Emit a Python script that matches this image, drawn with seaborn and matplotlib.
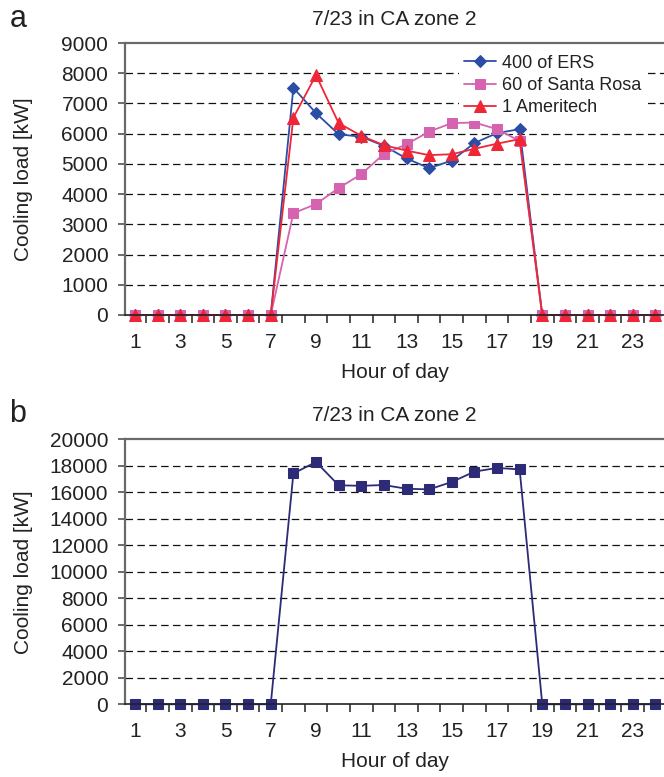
import matplotlib
matplotlib.use("Agg")
import matplotlib.pyplot as plt
import seaborn as sns
import pandas as pd
from matplotlib.ticker import FixedLocator, MultipleLocator

sns.set_theme(style="white")
plt.rcParams["font.family"] = ["Liberation Sans", "DejaVu Sans"]
plt.rcParams["text.color"] = "#222222"
plt.rcParams["axes.labelcolor"] = "#222222"
plt.rcParams["xtick.color"] = "#222222"
plt.rcParams["ytick.color"] = "#222222"

# Hourly cooling load [kW] on 7/23, CA zone 2
hours = list(range(1, 25))
ers_400 = [0, 0, 0, 0, 0, 0, 0, 7520, 6680, 5980, 5900, 5600, 5180, 4860, 5110,
           5690, 6020, 6150, 0, 0, 0, 0, 0, 0]
santa_rosa_60 = [0, 0, 0, 0, 0, 0, 0, 3370, 3670, 4200, 4660, 5330, 5650, 6070,
                 6350, 6370, 6150, 5760, 0, 0, 0, 0, 0, 0]
ameritech_1 = [0, 0, 0, 0, 0, 0, 0, 6530, 7940, 6350, 5930, 5620, 5440, 5290,
               5320, 5500, 5670, 5820, 0, 0, 0, 0, 0, 0]
total_load = [0, 0, 0, 0, 0, 0, 0, 17420, 18290, 16530, 16490, 16550, 16270,
              16220, 16780, 17560, 17840, 17730, 0, 0, 0, 0, 0, 0]

series_names = ["400 of ERS", "60 of Santa Rosa", "1 Ameritech"]
series_values = [ers_400, santa_rosa_60, ameritech_1]
x_tick_labels = [str(h) for h in range(1, 25, 2)]

df_a = pd.DataFrame({
    "hour": hours * 3,
    "load": sum(series_values, []),
    "series": sum([[n] * 24 for n in series_names], []),
})
df_b = pd.DataFrame({"hour": hours, "load": total_load, "series": "Total"})

palette = {"400 of ERS": "#2B4DA5", "60 of Santa Rosa": "#D563B0",
           "1 Ameritech": "#EE2636"}
markers = {"400 of ERS": "D", "60 of Santa Rosa": "s", "1 Ameritech": "^"}
msizes = {"400 of ERS": 6, "60 of Santa Rosa": 7, "1 Ameritech": 8}

fig = plt.figure(figsize=(6.64, 7.77), dpi=100)
ax_a = fig.add_axes([0.1883, 0.5946, 0.8117, 0.350])
ax_b = fig.add_axes([0.1883, 0.0936, 0.8117, 0.341])

# Panel a: three buildings
for name in series_names:
    sub = df_a[df_a["series"] == name]
    sns.lineplot(data=sub, x="hour", y="load", ax=ax_a, color=palette[name],
                 marker=markers[name], markersize=msizes[name],
                 markeredgecolor=palette[name], linewidth=1.3, label=name)

# Panel b: aggregated load
sns.lineplot(data=df_b, x="hour", y="load", ax=ax_b, color="#2D2A78",
             marker="s", markersize=7, markeredgecolor="#2D2A78",
             linewidth=1.3, legend=False)

FS = 15


def style_axes(ax, ymax, ystep, letter, letter_y):
    ax.set_xlim(0.56, 24.38)
    ax.set_ylim(0, ymax)
    ax.yaxis.set_major_locator(MultipleLocator(ystep))
    ax.xaxis.set_major_locator(FixedLocator(list(range(1, 25, 2))))
    ax.set_xticklabels(x_tick_labels)
    ax.xaxis.set_minor_locator(FixedLocator([h + 0.5 for h in range(1, 24)]))
    ax.tick_params(axis="x", which="major", length=0, pad=13, labelsize=FS)
    ax.tick_params(axis="x", which="minor", length=6, width=1.1,
                   direction="out", color="#222222", bottom=True)
    ax.tick_params(axis="y", which="major", length=5, width=1.1, pad=7,
                   direction="out", color="#444444", labelsize=FS, left=True)
    for y in range(ystep, ymax, ystep):
        ax.axhline(y, color="#111111", lw=0.9, ls=(0, (6, 3.5)), zorder=0.5)
    ax.spines["right"].set_visible(False)
    for s in ("left", "top"):
        ax.spines[s].set_color("#6a6a6a")
        ax.spines[s].set_linewidth(1.6)
    ax.spines["bottom"].set_color("#222222")
    ax.spines["bottom"].set_linewidth(1.2)
    ax.set_xlabel("Hour of day", fontsize=FS, labelpad=8)
    ax.set_ylabel("Cooling load [kW]", fontsize=FS)
    ax.yaxis.set_label_coords(-0.171, 0.5)
    ax.set_title("7/23 in CA zone 2", fontsize=FS, pad=13)
    fig.text(0.014, letter_y, letter, fontsize=22, va="center", ha="left")
    for line in ax.get_lines():
        line.set_clip_on(False)


style_axes(ax_a, 9000, 1000, "a", 0.976)
style_axes(ax_b, 20000, 2000, "b", 0.467)

handles, labels = ax_a.get_legend_handles_labels()
leg = ax_a.legend(handles, labels, loc="upper right",
                  bbox_to_anchor=(0.975, 0.99), fontsize=13, frameon=True,
                  facecolor="white", edgecolor="none", framealpha=1,
                  handlelength=1.75, handletextpad=0.35, labelspacing=0.28,
                  borderpad=0.3, borderaxespad=0.2)
leg.set_zorder(5)

fig.savefig("out.png", dpi=100)
